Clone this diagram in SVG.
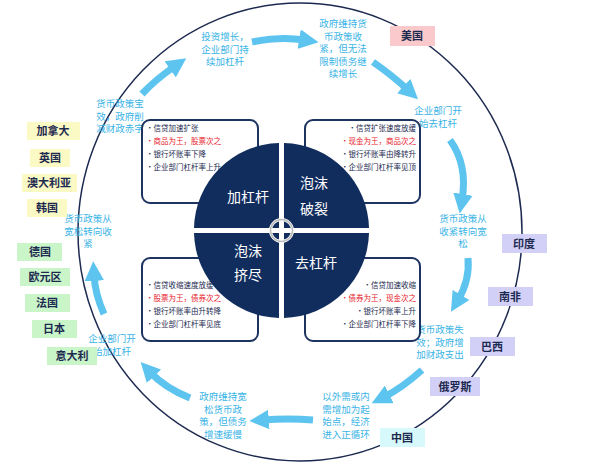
<svg xmlns="http://www.w3.org/2000/svg" width="600" height="462" viewBox="0 0 600 462">
<defs>
<style>
text{font-family:"Noto Sans CJK SC","Liberation Sans",sans-serif}
.b{fill:#3ab4e6;font-size:9.5px;text-anchor:middle}
.c{font-size:11px;font-weight:bold;fill:#1d2a50;text-anchor:middle}
.s{font-size:7.5px;fill:#1d2a50}
.r{fill:#e8202a}
.box{fill:#fff;stroke:#1d3461;stroke-width:2}
.q{fill:#112d5e}
.w{fill:#fff;font-size:14px;text-anchor:middle}
.ar{fill:none;stroke:#5cc4ef;stroke-width:7}
</style>
<marker id="h" viewBox="0 0 10 10" refX="3" refY="5" markerWidth="2.8" markerHeight="2.8" orient="auto"><path d="M0,0L10,5L0,10z" fill="#5cc4ef"/></marker>
</defs>
<rect width="600" height="462" fill="#fff"/>
<ellipse cx="300" cy="232" rx="222" ry="229" fill="none" stroke="#1d2a50" stroke-width="1.5"/>
<g id="connectors">
<path class="ar" d="M142,94 Q155,80 175,66" marker-end="url(#h)"/>
<path class="ar" d="M252,42 Q280,36 305,40" marker-end="url(#h)"/>
<path class="ar" d="M373,62 Q393,76 408,90" marker-end="url(#h)"/>
<path class="ar" d="M450,140 Q468,165 462,200" marker-end="url(#h)"/>
<path class="ar" d="M468,258 Q470,280 458,300" marker-end="url(#h)"/>
<path class="ar" d="M422,370 Q402,388 384,397" marker-end="url(#h)"/>
<path class="ar" d="M313,420 Q288,418 263,420" marker-end="url(#h)"/>
<path class="ar" d="M190,398 Q165,388 150,372" marker-end="url(#h)"/>
<path class="ar" d="M104,314 Q95,294 94,275" marker-end="url(#h)"/>
</g>
<g id="texts">
<text class="b"><tspan x="120" y="107">货币政策宝</tspan><tspan x="120" dy="12.5">效，政府削</tspan><tspan x="120" dy="12.5">减财政赤字</tspan></text>
<text class="b"><tspan x="225" y="40">投资增长，</tspan><tspan x="225" dy="12.5">企业部门持</tspan><tspan x="225" dy="12.5">续加杠杆</tspan></text>
<text class="b"><tspan x="343" y="27">政府维持货</tspan><tspan x="343" dy="12.5">币政策收</tspan><tspan x="343" dy="12.5">紧，但无法</tspan><tspan x="343" dy="12.5">限制债务继</tspan><tspan x="343" dy="12.5">续增长</tspan></text>
<text class="b"><tspan x="438" y="114">企业部门开</tspan><tspan x="438" dy="12.5">始去杠杆</tspan></text>
<text class="b"><tspan x="463" y="222">货币政策从</tspan><tspan x="463" dy="12.5">收紧转向宽</tspan><tspan x="463" dy="12.5">松</tspan></text>
<text class="b"><tspan x="440" y="333">货币政策失</tspan><tspan x="440" dy="12.5">效；政府增</tspan><tspan x="440" dy="12.5">加财政支出</tspan></text>
<text class="b"><tspan x="346" y="400">以外需或内</tspan><tspan x="346" dy="12.5">需增加为起</tspan><tspan x="346" dy="12.5">始点，经济</tspan><tspan x="346" dy="12.5">进入正循环</tspan></text>
<text class="b"><tspan x="223" y="400">政府维持宽</tspan><tspan x="223" dy="12.5">松货币政</tspan><tspan x="223" dy="12.5">策，但债务</tspan><tspan x="223" dy="12.5">增速缓慢</tspan></text>
<text class="b"><tspan x="112" y="342">企业部门开</tspan><tspan x="112" dy="12.5">始加杠杆</tspan></text>
<text class="b"><tspan x="88" y="222">货币政策从</tspan><tspan x="88" dy="12.5">宽松转向收</tspan><tspan x="88" dy="12.5">紧</tspan></text>
</g>
<g id="countries">
<rect x="390" y="26" width="45" height="20" fill="#f9c9cb"/><text class="c" x="412" y="40">美国</text>
<rect x="27" y="122" width="53" height="18" fill="#fbf9c4"/><text class="c" x="53" y="135">加拿大</text>
<rect x="30" y="149" width="40" height="18" fill="#fbf9c4"/><text class="c" x="50" y="162">英国</text>
<rect x="22" y="174" width="55" height="18" fill="#fbf9c4"/><text class="c" x="49" y="187">澳大利亚</text>
<rect x="27" y="199" width="40" height="18" fill="#fbf9c4"/><text class="c" x="47" y="212">韩国</text>
<rect x="17" y="243" width="45" height="18" fill="#c9f5c9"/><text class="c" x="40" y="256">德国</text>
<rect x="20" y="268" width="50" height="18" fill="#c9f5c9"/><text class="c" x="45" y="281">欧元区</text>
<rect x="25" y="294" width="45" height="18" fill="#c9f5c9"/><text class="c" x="47" y="307">法国</text>
<rect x="32" y="320" width="45" height="18" fill="#c9f5c9"/><text class="c" x="54" y="333">日本</text>
<rect x="47" y="347" width="50" height="18" fill="#c9f5c9"/><text class="c" x="72" y="360">意大利</text>
<rect x="502" y="234" width="45" height="19" fill="#d3d0f7"/><text class="c" x="524" y="248">印度</text>
<rect x="488" y="287" width="45" height="19" fill="#d3d0f7"/><text class="c" x="510" y="301">南非</text>
<rect x="470" y="337" width="45" height="19" fill="#d3d0f7"/><text class="c" x="492" y="351">巴西</text>
<rect x="430" y="377" width="50" height="19" fill="#d3d0f7"/><text class="c" x="455" y="391">俄罗斯</text>
<rect x="380" y="428" width="45" height="19" fill="#d8f9fb"/><text class="c" x="402" y="442">中国</text>
</g>
<g id="boxes">
<rect class="box" x="142" y="120" width="116" height="83" rx="8"/>
<rect class="box" x="305" y="120" width="115" height="83" rx="8"/>
<rect class="box" x="142" y="258" width="116" height="83" rx="8"/>
<rect class="box" x="305" y="258" width="115" height="83" rx="8"/>
<text class="s" x="146" y="131">•信贷加速扩张</text>
<text class="s r" x="146" y="144">•商品为王，股票次之</text>
<text class="s" x="146" y="157">•银行坏账率下降</text>
<text class="s" x="146" y="170">•企业部门杠杆率上升</text>
<g text-anchor="end"><text class="s" x="416" y="131">•信贷扩张速度放缓</text>
<text class="s r" x="416" y="144">•现金为王，商品次之</text>
<text class="s" x="416" y="157">•银行坏账率由降转升</text>
<text class="s" x="416" y="170">•企业部门杠杆率见顶</text>
<text class="s" x="416" y="288">•信贷加速收缩</text>
<text class="s r" x="416" y="301">•债券为王，现金次之</text>
<text class="s" x="416" y="314">•银行坏账率上升</text>
<text class="s" x="416" y="327">•企业部门杠杆率下降</text></g>
<text class="s" x="146" y="288">•信贷收缩速度放缓</text>
<text class="s r" x="146" y="301">•股票为王，债券次之</text>
<text class="s" x="146" y="314">•银行坏账率由升转降</text>
<text class="s" x="146" y="327">•企业部门杠杆率见底</text>
</g>
<g id="core">
<path class="q" d="M279,228 H194 A87,87 0 0 1 279,143 Z"/>
<path class="q" d="M284,228 V143 A87,87 0 0 1 369,228 Z"/>
<path class="q" d="M279,233 V318 A87,87 0 0 1 194,233 Z"/>
<path class="q" d="M284,233 H369 A87,87 0 0 1 284,318 Z"/>
<circle cx="281.5" cy="230.5" r="11" fill="none" stroke="#fff" stroke-width="3"/>
<circle cx="281.5" cy="230.5" r="11" fill="none" stroke="#bbb" stroke-width="1.5"/>
<text class="w" x="248" y="202">加杠杆</text>
<text class="w" x="314" y="188">泡沫</text><text class="w" x="314" y="214">破裂</text>
<text class="w" x="248" y="256">泡沫</text><text class="w" x="248" y="280">挤尽</text>
<text class="w" x="316" y="268">去杠杆</text>
</g>
</svg>
